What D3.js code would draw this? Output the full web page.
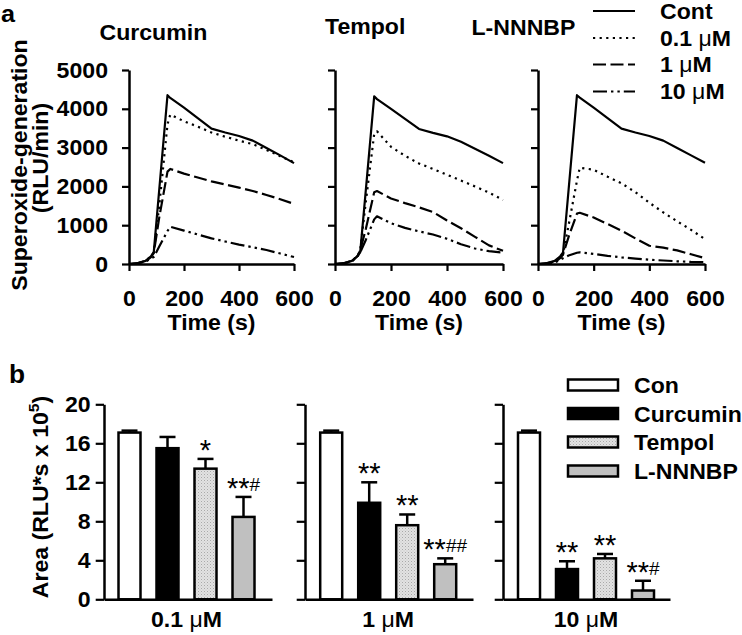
<!DOCTYPE html>
<html><head><meta charset="utf-8">
<script src="https://cdn.jsdelivr.net/npm/d3@7"></script>
<style>body{margin:0;background:#fff} svg{display:block}</style>
</head><body>
<svg id="c" width="742" height="635"></svg>
<script>
// ---------- data ----------
const timeS = [0,30,60,80,90,110,140,150,200,250,300,350,400,450,500,550,600];
const drugs = ["Curcumin","Tempol","L-NNNBP"];
const doseLabels = ["Cont","0.1 μM","1 μM","10 μM"];
const yTicksTop = [0,1000,2000,3000,4000,5000];
const xTicksTop = [0,200,400,600];

const curcuminCont = [0,20,80,200,300,1920,4350,4280,4030,3760,3490,3390,3300,3180,2990,2800,2600];
const curcumin01   = [0,20,80,200,300,1500,3600,3850,3680,3540,3390,3280,3180,3090,2940,2780,2620];
const curcumin1    = [0,20,70,180,280,1200,2380,2450,2330,2230,2130,2050,1970,1880,1780,1670,1550];
const curcumin10   = [0,20,60,140,180,450,850,960,860,760,660,580,500,430,360,270,180];

const tempolCont = [0,20,80,200,300,1900,4320,4250,4000,3740,3480,3380,3290,3150,2970,2790,2600];
const tempol01   = [0,20,80,200,350,1600,3350,3420,3020,2790,2590,2450,2300,2150,2000,1840,1650];
const tempol1    = [0,20,70,200,350,900,1850,1880,1690,1570,1460,1340,1120,920,700,480,340];
const tempol10   = [0,20,60,200,300,620,1150,1230,1050,930,840,760,650,510,400,330,290];

const lnnnbpCont = [0,20,80,200,300,1920,4350,4290,4030,3760,3490,3390,3300,3180,2990,2800,2610];
const lnnnbp01   = [0,20,60,150,250,1000,2150,2480,2430,2250,2080,1850,1580,1330,1100,880,640];
const lnnnbp1    = [0,20,60,150,250,700,1300,1320,1200,1030,860,660,470,420,350,250,150];
const lnnnbp10   = [0,10,40,100,150,220,290,300,260,210,170,140,110,90,70,55,50];

const curveSets = [
  [curcuminCont, curcumin01, curcumin1, curcumin10],
  [tempolCont, tempol01, tempol1, tempol10],
  [lnnnbpCont, lnnnbp01, lnnnbp1, lnnnbp10]
];

const groups = ["0.1 μM","1 μM","10 μM"];
const treatments = ["Con","Curcumin","Tempol","L-NNNBP"];
const yTicksBar = [0,4,8,12,16,20];
const meanVals = [[17.1,15.5,13.4,8.45],[17.1,9.9,7.6,3.6],[17.1,3.1,4.2,0.9]];
const errVals  = [[0.2,1.15,1.0,2.05],[0.2,2.1,1.1,0.6],[0.2,0.8,0.45,1.0]];
const sigLabels = [["","","*","**#"],["","**","**","**##"],["","**","**","**#"]];

// ---------- styling / layout ----------
const FONT = "'Liberation Sans', Arial, Helvetica, sans-serif";
const SX = 1.05;
const dashes = [null, "2.2,4.4", "13,4.5", "14,4,2.4,4,2.4,4"];
const barFills = ["#ffffff","#000000","url(#tp)","#c0c0c0"];

const svg = d3.select("#c");
const defs = svg.append("defs");
const pat = defs.append("pattern").attr("id","tp").attr("width",3).attr("height",3).attr("patternUnits","userSpaceOnUse");
pat.append("rect").attr("width",3).attr("height",3).attr("fill","#e2e2e2");
pat.append("rect").attr("width",1).attr("height",1).attr("fill","#a9a9a9");
pat.append("rect").attr("x",1.5).attr("y",1.5).attr("width",1).attr("height",1).attr("fill","#c4c4c4");

function addParts(t, s) {
  s.split(/(μ)/).forEach(p => {
    if (!p) return;
    const ts = t.append("tspan").text(p);
    if (p === "μ") ts.attr("font-weight","normal");
  });
}
function txt(parent, x, y, s, o = {}) {
  const g = parent.append("g").attr("transform", `translate(${x},${y}) rotate(${o.rot||0}) scale(${SX},1)`);
  const t = g.append("text").attr("text-anchor", o.anchor || "start")
    .attr("font-family", FONT).attr("font-weight", o.weight || "bold")
    .attr("font-size", o.size || 22).attr("fill", "#000");
  if (o.raw) o.raw(t); else addParts(t, s);
  return t;
}
function styleAxis(g, showText) {
  g.select(".domain").attr("stroke","#000").attr("stroke-width",2.5);
  g.selectAll(".tick line").attr("stroke","#000").attr("stroke-width",2.2);
  g.selectAll(".tick text").each(function() {
    const t = d3.select(this);
    if (!showText) { t.remove(); return; }
    const x = +t.attr("x") || 0, y = +t.attr("y") || 0;
    t.attr("x",0).attr("y",0).attr("transform",`translate(${x},${y}) scale(${SX},1)`)
     .attr("font-family",FONT).attr("font-weight","bold").attr("font-size",22).attr("fill","#000");
  });
}
const fmt = d3.format("d");

// ---------- panel a ----------
const topX = [[129,294],[335,503],[538,705]];
const topY = [264,70];
const titlePos = [[99.5,40],[325,33.5],[471.5,35]];

drugs.forEach((drug, i) => {
  const x = d3.scaleLinear().domain([0,600]).range(topX[i]);
  const y = d3.scaleLinear().domain([0,5000]).range(topY);
  const g = svg.append("g");
  const ya = d3.axisLeft(y).tickValues(yTicksTop).tickFormat(fmt).tickSize(7).tickSizeOuter(0).tickPadding(14);
  const yg = g.append("g").attr("transform",`translate(${topX[i][0]},0)`).call(ya);
  styleAxis(yg, i === 0);
  const xa = d3.axisBottom(x).tickValues(xTicksTop).tickFormat(fmt).tickSize(7).tickSizeOuter(0).tickPadding(19);
  const xg = g.append("g").attr("transform",`translate(0,${topY[0]})`).call(xa);
  styleAxis(xg, true);
  txt(g, (topX[i][0]+topX[i][1])/2, 330, "Time (s)", {anchor:"middle"});
  txt(g, titlePos[i][0], titlePos[i][1], drug);

  const line = d3.line().x((d,k) => x(timeS[k])).y(d => y(d));
  curveSets[i].forEach((vals, k) => {
    g.append("path").attr("d", line(vals)).attr("fill","none").attr("stroke","#000")
      .attr("stroke-width",2.2).attr("stroke-linejoin","round")
      .attr("stroke-dasharray", dashes[k]);
  });
});

// y title a
txt(svg, 27, 165, "Superoxide-generation", {anchor:"middle", rot:-90});
txt(svg, 48, 158, "(RLU/min)", {anchor:"middle", rot:-90});
txt(svg, 1, 22, "a", {size:24});

// legend a
const legY = [11, 38, 64.5, 91.5];
doseLabels.forEach((lab, k) => {
  svg.append("line").attr("x1",593).attr("x2",635).attr("y1",legY[k]).attr("y2",legY[k])
    .attr("stroke","#000").attr("stroke-width",2.2).attr("stroke-dasharray",dashes[k]);
  txt(svg, 660, legY[k]+7.5, lab);
});

// ---------- panel b ----------
const barAxisX = [104,305,503];
const barAxisEnd = [272,473,670];
const barFirst = [118.5,320.2,518];
const step = 38;
const yb = d3.scaleLinear().domain([0,20]).range([599.3,404.3]);

groups.forEach((grp, i) => {
  const g = svg.append("g");
  const s0 = barFirst[i] - 8;
  const xb = d3.scaleBand().domain(treatments).range([s0, s0 + 4*step])
    .paddingInner(16/38).paddingOuter(8/38);
  treatments.forEach((tr, j) => {
    const v = meanVals[i][j], e = errVals[i][j];
    const cx = xb(tr) + xb.bandwidth()/2;
    g.append("line").attr("x1",cx).attr("x2",cx).attr("y1",yb(v)).attr("y2",yb(v+e))
      .attr("stroke","#000").attr("stroke-width",2.5);
    g.append("line").attr("x1",cx-8).attr("x2",cx+8).attr("y1",yb(v+e)).attr("y2",yb(v+e))
      .attr("stroke","#000").attr("stroke-width",2.5);
    g.append("rect").attr("x",xb(tr)).attr("width",xb.bandwidth())
      .attr("y",yb(v)).attr("height",yb(0)-yb(v))
      .attr("fill",barFills[j]).attr("stroke","#000").attr("stroke-width",2.5);
    const lab = sigLabels[i][j];
    if (lab) {
      const stars = lab.replace(/#/g,""), hashes = lab.replace(/\*/g,"");
      const t = g.append("text").attr("x",cx).attr("y",yb(v+e)+1).attr("text-anchor","middle")
        .attr("font-family",FONT).attr("fill","#000");
      t.append("tspan").attr("font-size",29).text(stars);
      if (hashes) t.append("tspan").attr("font-size",19).attr("dy",-7).text(hashes);
    }
  });
  const ya = d3.axisLeft(yb).tickValues(yTicksBar).tickFormat(fmt).tickSize(8.3).tickSizeOuter(0).tickPadding(5);
  const yg = g.append("g").attr("transform",`translate(${barAxisX[i]},0)`).call(ya);
  styleAxis(yg, i === 0);
  const xl = d3.scaleLinear().domain([0,1]).range([barAxisX[i], barAxisEnd[i]]);
  const xg = g.append("g").attr("transform",`translate(0,${yb(0)})`)
    .call(d3.axisBottom(xl).tickValues([]).tickSizeOuter(0));
  styleAxis(xg, false);
  const cxm = (xb(treatments[0]) + xb(treatments[3]) + xb.bandwidth())/2;
  txt(g, cxm, 627, grp, {anchor:"middle"});
});

// y title b
txt(svg, 48, 497, "", {anchor:"middle", rot:-90, raw: t => {
  t.append("tspan").text("Area (RLU*s x 10");
  t.append("tspan").attr("font-size",15).attr("dy",-9).text("5");
  t.append("tspan").attr("dy",9).text(")");
}});
txt(svg, 9, 383, "b", {size:25});

// legend b
const legBY = [385, 413.5, 442, 471];
treatments.forEach((tr, j) => {
  svg.append("rect").attr("x",568).attr("y",legBY[j]-5.5).attr("width",50).attr("height",11)
    .attr("fill",barFills[j]).attr("stroke","#000").attr("stroke-width",2.5);
  txt(svg, 634, legBY[j]+8, tr);
});
</script>
</body></html>
